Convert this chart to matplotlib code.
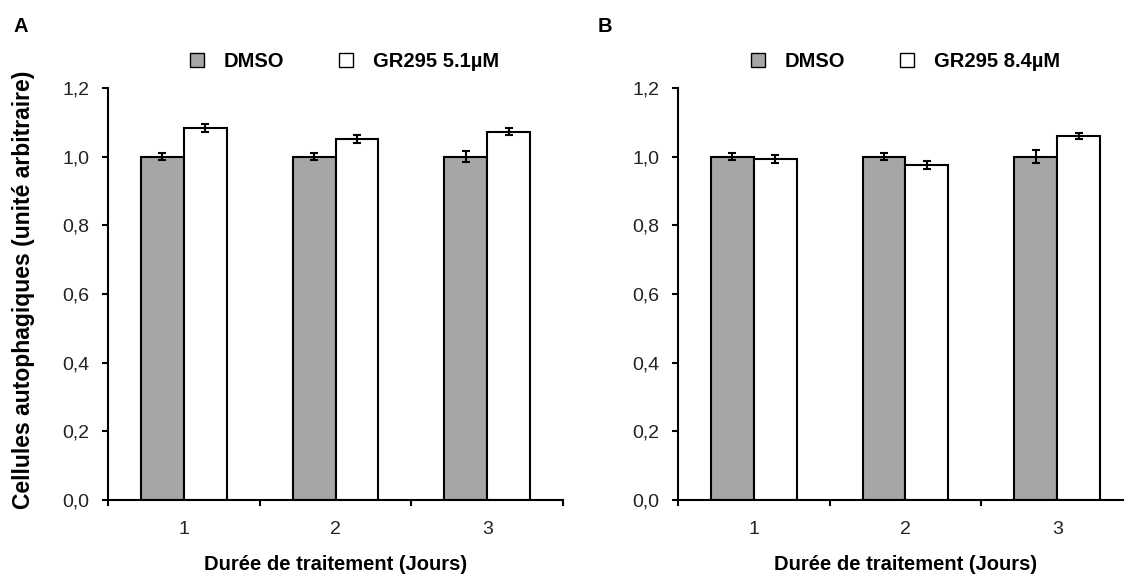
import matplotlib
matplotlib.use("Agg")
import matplotlib.pyplot as plt
from matplotlib.patches import Patch
import numpy as np

plt.rcParams['font.family'] = ['Liberation Sans', 'DejaVu Sans']

days = ["1", "2", "3"]
yticks = [0.0, 0.2, 0.4, 0.6, 0.8, 1.0, 1.2]
ytick_labels = ["0,0", "0,2", "0,4", "0,6", "0,8", "1,0", "1,2"]

dmso_A = [1.0, 1.0, 1.0]
dmso_A_err = [0.010, 0.010, 0.016]
gr_A = [1.084, 1.051, 1.073]
gr_A_err = [0.011, 0.011, 0.010]

dmso_B = [1.0, 1.0, 1.0]
dmso_B_err = [0.011, 0.011, 0.018]
gr_B = [0.993, 0.975, 1.059]
gr_B_err = [0.011, 0.011, 0.009]

labels_A = ["DMSO", "GR295 5.1µM"]
labels_B = ["DMSO", "GR295 8.4µM"]

gray = "#a6a6a6"
W, H = 1124, 576

fig = plt.figure(figsize=(W / 100, H / 100), dpi=100)
axA = fig.add_axes([108 / W, 76 / H, 455 / W, 412 / H])
axB = fig.add_axes([678 / W, 76 / H, 455 / W, 412 / H])

def draw(ax, d, de, g, ge, labels, legx):
    x = np.arange(1, len(days) + 1)
    w = 0.283
    ekw = dict(ecolor="black", elinewidth=1.5, capsize=3.2, capthick=1.5)
    ax.bar(x - w/2, d, w, color=gray, edgecolor="black", linewidth=1.5,
           yerr=de, error_kw=ekw, zorder=2)
    ax.bar(x + w/2, g, w, color="white", edgecolor="black", linewidth=1.5,
           yerr=ge, error_kw=ekw, zorder=2)
    ax.set_xlim(0.5, len(days) + 0.5)
    ax.set_ylim(0, 1.2)
    ax.set_yticks(yticks)
    ax.set_yticklabels(ytick_labels, fontsize=14, color="#222222")
    ax.set_xticks(np.arange(0.5, len(days) + 1, 1.0))
    ax.set_xticklabels([])
    ax.set_xticks(x, minor=True)
    ax.set_xticklabels(days, minor=True, fontsize=14, color="#222222")
    ax.tick_params(axis='x', which='minor', length=0, pad=15)
    ax.tick_params(axis='x', which='major', direction='out', length=4.5, width=1.5)
    ax.tick_params(axis='y', direction='out', length=4.5, width=1.5, pad=9)
    for s in ["top", "right"]:
        ax.spines[s].set_visible(False)
    for s in ["left", "bottom"]:
        ax.spines[s].set_linewidth(1.5)
    ax.set_xlabel("Durée de traitement (Jours)", fontsize=14.5, fontweight="bold")
    ax.xaxis.set_label_coords(0.5, -0.133)
    handles = [Patch(facecolor=gray, edgecolor="black", linewidth=1.0),
               Patch(facecolor="white", edgecolor="black", linewidth=1.0)]
    ax.legend(handles, labels, loc="center", bbox_to_anchor=(legx, 1.064), ncol=2,
              frameon=False, handlelength=0.7, handleheight=0.65, handletextpad=1.0,
              columnspacing=2.7, borderaxespad=0, borderpad=0,
              prop=dict(size=14.5, weight="bold"))

draw(axA, dmso_A, dmso_A_err, gr_A, gr_A_err, labels_A, 0.52)
draw(axB, dmso_B, dmso_B_err, gr_B, gr_B_err, labels_B, 0.5)

axA.set_ylabel("Cellules autophagiques (unité arbitraire)", fontsize=16.5, fontweight="bold")
axA.yaxis.set_label_coords(-0.16, 0.51)

fig.text(14 / W, 1 - 27 / H, "A", fontsize=14.5, fontweight="bold", va="center")
fig.text(598 / W, 1 - 27 / H, "B", fontsize=14.5, fontweight="bold", va="center")

fig.savefig("out.png", dpi=100)
